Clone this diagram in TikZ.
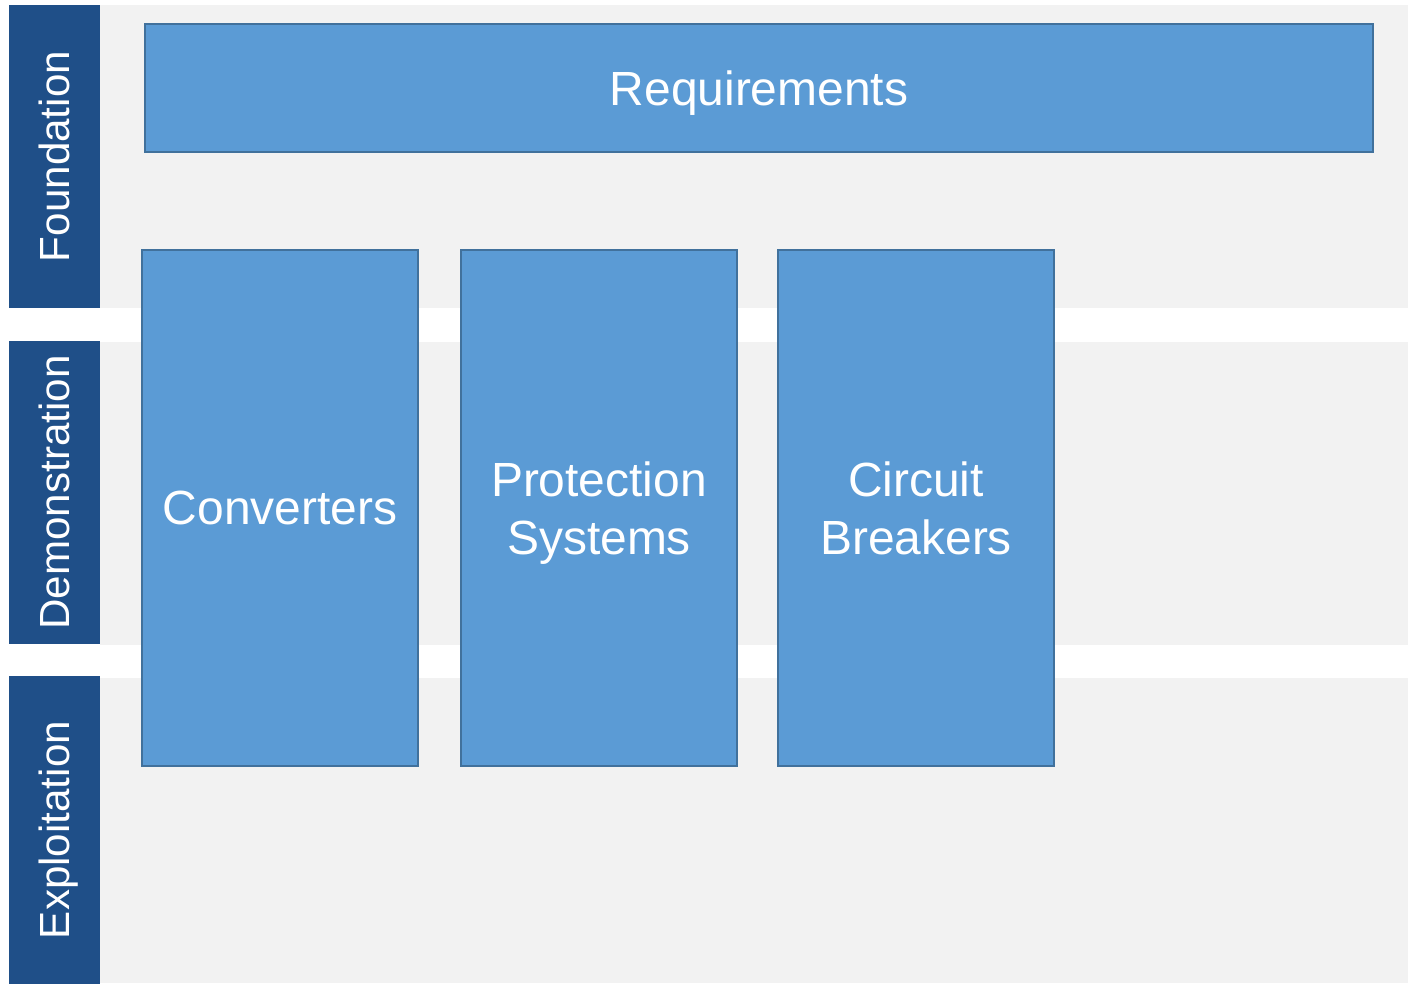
\documentclass[tikz,border=0pt]{standalone}
\usepackage{fontspec}
\setmainfont{Liberation Sans}
\definecolor{bandgray}{HTML}{F2F2F2}
\definecolor{phaseblue}{HTML}{1F4F88}
\definecolor{boxblue}{HTML}{5B9BD5}
\definecolor{boxedge}{HTML}{41719C}

\begin{document}
\begin{tikzpicture}[
    x=0.02cm, y=-0.02cm,
    band/.style={fill=bandgray},
    phase/.style={fill=phaseblue, text=white, rotate=90, inner sep=0pt,
        text depth=0pt, minimum height=1.82cm, font=\fontsize{24}{28}\selectfont},
    block/.style={draw=boxedge, fill=boxblue, line width=1.1pt, text=white,
        align=center, inner sep=0pt, text depth=0pt, font=\fontsize{27.3}{33}\selectfont},
]
\useasboundingbox (0,0) rectangle (1408,984);

% swim lanes
\fill[band] (100,5) rectangle (1408,308);
\fill[band] (100,342) rectangle (1408,645);
\fill[band] (100,678) rectangle (1408,983);

\node[phase, minimum width=6.06cm] (foundation) at (54.5,156.5) {Foundation};
\node[phase, minimum width=6.06cm] (demo) at (54.5,492.5) {Demonstration};
\node[phase, minimum width=6.16cm] (exploit) at (54.5,830) {Exploitation};

% work packages
\node[block, minimum width=24.56cm, minimum height=2.56cm] (req) at (759,88) {Requirements};
\node[block, minimum width=5.52cm, minimum height=10.32cm] (conv) at (280,508) {Converters};
\node[block, minimum width=5.52cm, minimum height=10.32cm] (prot) at (599,508) {Protection\\Systems};
\node[block, minimum width=5.52cm, minimum height=10.32cm] (cb) at (916,508) {Circuit\\Breakers};

\end{tikzpicture}
\end{document}
